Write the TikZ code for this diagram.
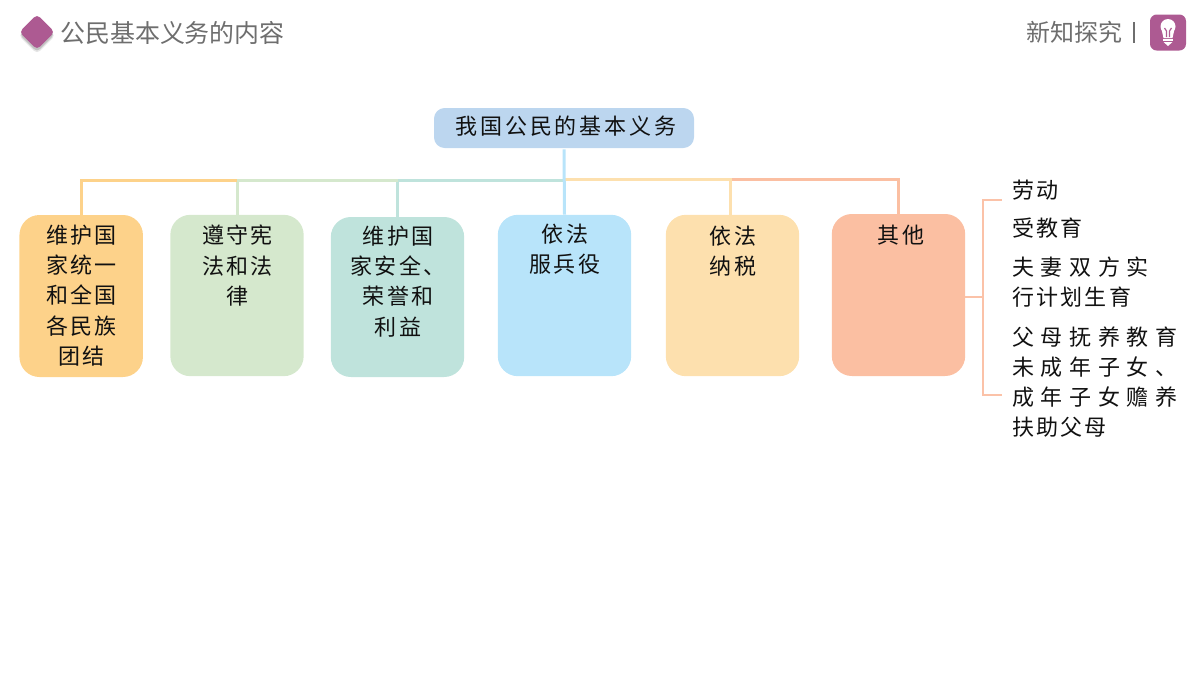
\documentclass[tikz,border=0pt]{standalone}
\usepackage{fontspec}
\setmainfont{Noto Sans CJK SC}
\newfontfamily\kbase[LetterSpace=10]{Noto Sans CJK SC}
\newfontfamily\kroot[LetterSpace=13]{Noto Sans CJK SC}
\newfontfamily\kwide[LetterSpace=30]{Noto Sans CJK SC}
\newfontfamily\kplain{Noto Sans CJK SC}
\definecolor{cOne}{HTML}{FDD28A}
\definecolor{cTwo}{HTML}{D5E8CD}
\definecolor{cThree}{HTML}{BFE3DC}
\definecolor{cFour}{HTML}{B8E4FA}
\definecolor{cFive}{HTML}{FDE0AE}
\definecolor{cSix}{HTML}{FBBFA2}
\definecolor{cRoot}{HTML}{BCD6EF}
\definecolor{cBracket}{HTML}{FBC2A8}
\definecolor{cPurple}{HTML}{AD5A92}
\definecolor{cGrey}{HTML}{6E6E6E}
\definecolor{cInk}{HTML}{111111}
\tikzset{
  x=0.75pt,y=-0.75pt,
  card/.style={rounded corners=15pt,inner sep=0pt,minimum height=121pt,minimum width=100pt},
  rootcard/.style={rounded corners=8pt,inner sep=0pt,minimum width=195pt,minimum height=30pt,fill=cRoot},
  cardtext/.style={anchor=north,inner sep=0pt,align=center,text=cInk,font=\kbase\fontsize{16.5pt}{22.6pt}\selectfont},
  listtext/.style={anchor=north west,inner sep=0pt,align=left,text=cInk,font=\kbase\fontsize{16.5pt}{22.5pt}\selectfont},
  link/.style={line width=2.25pt},
  bracket/.style={draw=cBracket,line width=1.5pt},
  headtext/.style={inner sep=0pt,text=cGrey},
  gem/.style={rotate=45,minimum size=18.6pt,rounded corners=3pt,inner sep=0pt},
}
\begin{document}
\begin{tikzpicture}
\useasboundingbox (0,0) rectangle (1200,675);
% header
\node[gem,fill=gray,opacity=0.2,minimum size=19.4pt] (dshadowa) at (37,35.5) {};
\node[gem,fill=gray,opacity=0.35] (dshadowb) at (37,34.5) {};
\node[gem,fill=cPurple] (diamond) at (37,32) {};
\node[headtext,anchor=west,font=\kplain\fontsize{18.7pt}{22pt}\selectfont] (title) at (60,33) {公民基本义务的内容};
\node[headtext,anchor=west,font=\kplain\fontsize{18pt}{22pt}\selectfont] (xinzhi) at (1026,32) {新知探究};
\coordinate (bara) at (1134,22);
\coordinate (barb) at (1134,43);
\draw[cGrey,line width=1.2pt] (bara) -- (barb);
\node[fill=cPurple,rounded corners=5pt,minimum size=27pt,inner sep=0pt] (icon) at (1168,32.5) {};
% bulb
\fill[white] (1168,26.5) circle (7.5);
\fill[white] (1161.8,30.5) -- (1174.2,30.5) -- (1172.5,38) -- (1163.5,38) -- cycle;
\draw[cPurple,line width=0.9pt] (1164.5,28) -- (1166.5,31) -- (1166.5,37) (1171.5,28) -- (1169.5,31) -- (1169.5,37);
\draw[white,line width=1.2pt] (1163,40.2) -- (1173,40.2);
\fill[white] (1163.5,42) -- (1172.5,42) -- (1168,46) -- cycle;
% root and cards
\node[rootcard] (root) at (564,128) {};
\node[cardtext,font=\kroot\fontsize{16.5pt}{22.6pt}\selectfont,anchor=center] (roottext) at (566,126.5) {我国公民的基本义务};
\node[card,fill=cOne,minimum width=92.6pt,minimum height=121.5pt] (b1) at (81.2,296) {};
\node[card,fill=cTwo] (b2) at (237,295.5) {};
\node[card,fill=cThree,minimum height=120pt] (b3) at (397.5,297) {};
\node[card,fill=cFour] (b4) at (564.5,295.5) {};
\node[card,fill=cFive] (b5) at (732.5,295.5) {};
\node[card,fill=cSix,minimum height=121.5pt] (b6) at (898.5,295) {};
\node[cardtext] (t1) at (81.5,225) {维护国\\家统一\\和全国\\各民族\\团结};
\node[cardtext] (t2) at (237.5,225) {遵守宪\\法和法\\律};
\node[cardtext] (t3) at (398,226) {维护国\\家安全、\\荣誉和\\利益};
\node[cardtext] (t4) at (565,224) {依法\\服兵役};
\node[cardtext] (t5) at (733,226) {依法\\纳税};
\node[cardtext] (t6) at (901,225) {其他};
% connectors
\coordinate (bus) at (564,180);
\coordinate (busb) at (564,179);
\coordinate (topfive) at (730,215);
\draw[link,cFive] (bus |- busb) -| (topfive);
\draw[link,cSix] (b6.north) |- (732,179);
\draw[link,cThree] (bus) -| (b3.north);
\draw[link,cTwo] (b3.north |- bus) -| (b2.north);
\draw[link,cOne] (b2.north |- bus) -| (b1.north);
\draw[link,cFour] (root.south) ++(0,1) -- (b4.north);
% right list
\coordinate (bjoin) at (983,297);
\coordinate (btop) at (1001.5,200);
\coordinate (bbot) at (1001.5,395);
\draw[bracket] (b6.east |- bjoin) -- (bjoin);
\draw[bracket] (btop) -| (bjoin) |- (bbot);
\node[listtext] (l1) at (1012,180) {劳动};
\node[listtext] (l2) at (1012,218) {受教育};
\node[listtext,font=\kwide\fontsize{16.5pt}{22.5pt}\selectfont] (l3a) at (1012,257) {夫妻双方实};
\node[listtext] (l3b) at (1012,287) {行计划生育};
\node[listtext,font=\kwide\fontsize{16.5pt}{22.5pt}\selectfont] (l4a) at (1012,327) {父母抚养教育\\未成年子女、\\成年子女赡养};
\node[listtext] (l4b) at (1012,417) {扶助父母};
\end{tikzpicture}
\end{document}
